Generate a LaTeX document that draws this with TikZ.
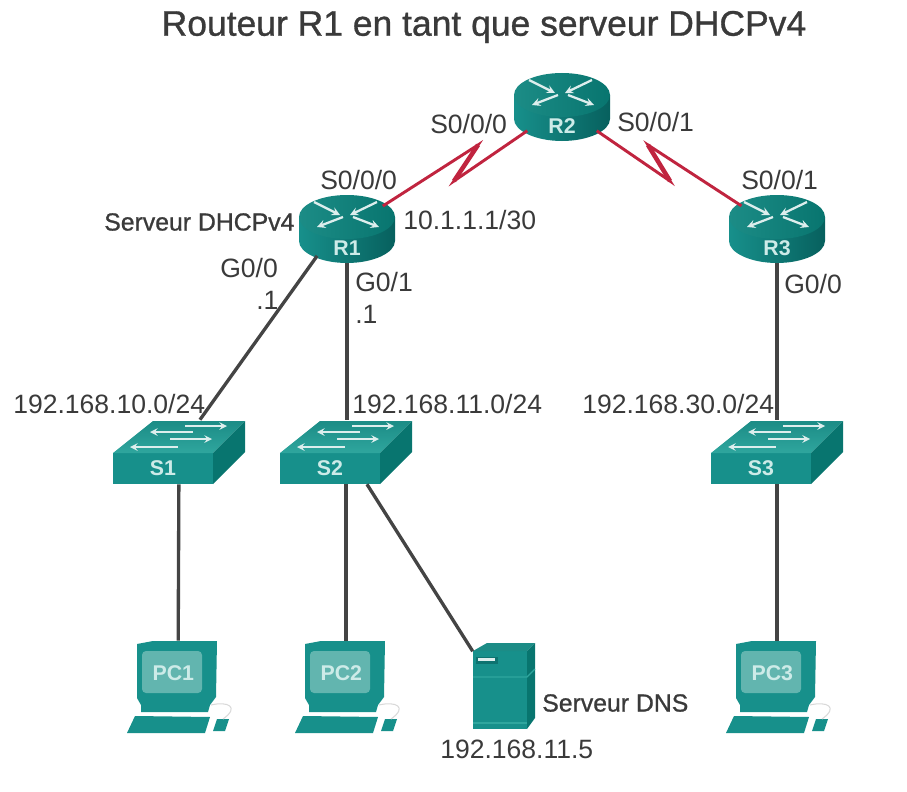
\documentclass[tikz,border=0pt]{standalone}
\usepackage{fontspec}
\setmainfont{Liberation Sans}
\newfontfamily\medfont[FakeBold=0.9]{Liberation Sans}
\usetikzlibrary{shapes.geometric}
\definecolor{tealtop}{HTML}{1C8C86}
\definecolor{teallight}{HTML}{2FA69E}
\definecolor{tealfront}{HTML}{17908B}
\definecolor{tealdark}{HTML}{07605E}
\definecolor{tealside}{HTML}{08756F}
\definecolor{tealscreen}{HTML}{62B5AF}
\definecolor{devtext}{HTML}{CDEBE8}
\definecolor{inktext}{HTML}{3A3A3A}
\definecolor{wanred}{HTML}{C0243F}
\definecolor{lanline}{HTML}{444444}
\tikzset{
	x=0.75pt, y=-0.75pt,
	tag/.style={text=inktext, font=\fontsize{19.9}{22}\selectfont, inner sep=0pt, anchor=west},
	boldtag/.style={tag, font=\medfont\fontsize{18.6}{22}\selectfont},
	wan/.style={draw=wanred, line width=2.2pt},
	wanbolt/.style={draw=wanred, line width=3.4pt},
	lan/.style={draw=lanline, line width=2.5pt},
	routerbox/.style={ellipse, minimum width=72pt, minimum height=51pt, inner sep=0pt},
	switchbox/.style={rectangle, minimum width=99pt, minimum height=48pt, inner sep=0pt},
	pcbox/.style={rectangle, minimum width=60pt, minimum height=69pt, inner sep=0pt},
	serverbox/.style={rectangle, minimum width=46.5pt, minimum height=64.5pt, inner sep=0pt},
	devname/.style={text=devtext, font=\fontsize{16}{18}\selectfont\bfseries, inner sep=0pt},
	routerpic/.pic={
		\path[left color=tealfront, middle color=teallight, right color=tealdark]
			(-48,-12) -- (-48,12) .. controls (-48,24) and (-26,34) .. (0,34) .. controls (26,34) and (48,24) .. (48,12) -- (48,-12) -- cycle;
		\path[left color=tealtop, middle color=teallight, right color=tealside] (0,-12) ellipse[x radius=48, y radius=22];
		\draw[white!85!tealtop, line width=1.7pt, -stealth] (-33,-27) -- (-7,-14);
		\draw[white!85!tealtop, line width=1.7pt, -stealth] (30,-27) -- (3,-14);
		\draw[white!85!tealtop, line width=1.7pt, -stealth] (-4,-12) -- (-30,-2);
		\draw[white!85!tealtop, line width=1.7pt, -stealth] (6,-12) -- (32,-2);
	},
	switchpic/.pic={
		\path[fill=tealfront] (-66,1) rectangle (34,32);
		\path[bottom color=teallight, top color=tealtop] (-66,1) -- (-26,-31) -- (66,-31) -- (34,1) -- cycle;
		\path[fill=tealside] (34,1) -- (66,-31) -- (66,0) -- (34,32) -- cycle;
		\draw[white!85!tealtop, line width=1.5pt, -stealth] (6,-26) -- (48,-26);
		\draw[white!85!tealtop, line width=1.5pt, -stealth] (14,-20) -- (-29,-20);
		\draw[white!85!tealtop, line width=1.5pt, -stealth] (-9,-13) -- (33,-13);
		\draw[white!85!tealtop, line width=1.5pt, -stealth] (-1,-5) -- (-49,-5);
	},
	pcpic/.pic={
		\path[fill=tealfront] (-41,-43) -- (-25,-46) -- (39,-46) -- (38,10) -- (32,18) -- (30,25) -- (-37,25) -- (-37,18) -- (-41,11) -- cycle;
		\path[fill=tealscreen, rounded corners=3pt] (-36,-36) rectangle (24,6);
		\path[fill=tealfront] (-43,29) -- (32,30) -- (27,46) -- (-51,46) -- cycle;
		\path[fill=tealfront] (39,32) -- (51,32) -- (47,44) -- (35,44) -- cycle;
		\draw[gray!30, line width=0.8pt] (33,18) .. controls (50,14) and (62,20) .. (45,32);
	},
	serverpic/.pic={
		\path[fill=tealfront] (-31,-35) rectangle (23,43);
		\path[fill=tealtop] (-31,-35) -- (-17,-43) -- (31,-43) -- (23,-35) -- cycle;
		\path[fill=tealside] (23,-35) -- (31,-43) -- (31,32) -- (23,43) -- cycle;
		\draw[teallight, line width=0.9pt] (-31,-9) -- (23,-9) -- (31,-17);
		\draw[teallight, line width=0.9pt] (-31,37) -- (23,37);
		\path[fill=tealdark!60!tealfront] (-28,-29) rectangle (-6,-22);
		\path[fill=white!85!tealtop] (-26,-28) rectangle (-9,-25);
	}
}
\begin{document}
\begin{tikzpicture}
	\useasboundingbox (0,0) rectangle (907,792);
	\pic at (562,107) {routerpic};
	\pic at (347,229) {routerpic};
	\pic at (777,229) {routerpic};
	\pic at (179,452) {switchpic};
	\pic at (346,452) {switchpic};
	\pic at (777,452) {switchpic};
	\pic at (178,687) {pcpic};
	\pic at (346,687) {pcpic};
	\pic at (777,687) {pcpic};
	\pic at (504,686) {serverpic};

	\node[routerbox, label={[devname, yshift=-14.5pt]center:R2}] (R2) at (562,107) {};
	\node[routerbox, label={[devname, yshift=-14.5pt]center:R1}] (R1) at (347,229) {};
	\node[routerbox, label={[devname, yshift=-14.5pt]center:R3}] (R3) at (777,229) {};
	\node[switchbox, label={[devname, xshift=-12pt, yshift=-12pt]center:S1}] (S1) at (179,452) {};
	\node[switchbox, label={[devname, xshift=-12pt, yshift=-12pt]center:S2}] (S2) at (346,452) {};
	\node[switchbox, label={[devname, xshift=-12pt, yshift=-12pt]center:S3}] (S3) at (777,452) {};
	\node[pcbox, label={[devname, xshift=-3.5pt, yshift=10.5pt]center:PC1}] (PC1) at (178,687) {};
	\node[pcbox, label={[devname, xshift=-3.5pt, yshift=10.5pt]center:PC2}] (PC2) at (346,687) {};
	\node[pcbox, label={[devname, xshift=-3.5pt, yshift=10.5pt]center:PC3}] (PC3) at (777,687) {};
	\node[serverbox] (DNS) at (504,686) {};

	\coordinate (Z1a) at (478,145);
	\coordinate (Z1b) at (454,181);
	\coordinate (Z2a) at (670,181);
	\coordinate (Z2b) at (648,145);
	\draw[wan] (R1) -- (Z1a) -- (Z1b) -- (R2);
	\draw[wan] (R2) -- (Z2a) -- (Z2b) -- (R3);
	\draw[wanbolt] (Z1a) -- (Z1b);
	\draw[wanbolt] (Z2a) -- (Z2b);
	\draw[lan] (R1.222) -- (S1.57);
	\draw[lan] (R1) -- (S2.north -| R1);
	\draw[lan] (R3) -- (S3);
	\draw[lan] (S1) -- (PC1);
	\draw[lan] (S2) -- (PC2);
	\draw[lan] (S3) -- (PC3);
	\draw[lan] (S2.303) -- (DNS.132);

	\node[text=inktext, font=\medfont\fontsize{26.6}{30}\selectfont, inner sep=0pt] (title) at (484,27) {Routeur R1 en tant que serveur DHCPv4};
	\node[tag] (R2s0) at (430,124) {S0/0/0};
	\node[tag] (R2s1) at (617,122) {S0/0/1};
	\node[tag] (R1s0) at (320,180) {S0/0/0};
	\node[tag] (R3s1) at (741,180) {S0/0/1};
	\node[tag] (R1ip) at (403,220) {10.1.1.1/30};
	\node[boldtag] (R1role) at (104,222) {Serveur DHCPv4};
	\node[tag] (R1g0) at (220,268) {G0/0};
	\node[tag] (R1g0ip) at (256,300) {.1};
	\node[tag] (R1g1) at (355,282) {G0/1};
	\node[tag] (R1g1ip) at (355,314) {.1};
	\node[tag] (R3g0) at (784,284) {G0/0};
	\node[tag] (NetA) at (13,404) {192.168.10.0/24};
	\node[tag] (NetB) at (352,404) {192.168.11.0/24};
	\node[tag] (NetC) at (582,404) {192.168.30.0/24};
	\node[boldtag] (DNSname) at (542,703) {Serveur DNS};
	\node[tag] (DNSip) at (440,749) {192.168.11.5};
\end{tikzpicture}
\end{document}
